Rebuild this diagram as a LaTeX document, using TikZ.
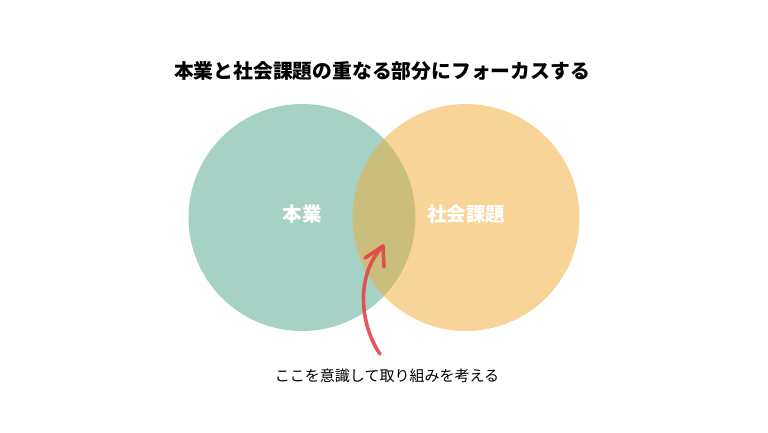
\documentclass[tikz,border=0pt]{standalone}
\usepackage{fontspec}
\newfontfamily\jp{Noto Sans CJK JP}
\usetikzlibrary{calc}
\definecolor{cgreen}{RGB}{77,166,140}
\definecolor{corange}{RGB}{242,171,52}
\definecolor{cred}{RGB}{226,70,72}
\begin{document}
\begin{tikzpicture}[x=1pt,y=-1pt,
  venn/.style={circle,minimum size=227pt,inner sep=0pt,fill opacity=0.5},
  lab/.style={text=white,font=\jp\bfseries\fontsize{19.5}{22}\selectfont},
  pen/.style={draw=cred,line width=3.6pt,line cap=round,line join=round,opacity=0.9}]
\useasboundingbox[fill=white] (0,0) rectangle (768,432);
\node (title) at (382,71) {\jp\bfseries\fontsize{19.8}{23}\selectfont 本業と社会課題の重なる部分にフォーカスする};
\node[venn,fill=cgreen] (c1) at (302,217.5) {};
\node[venn,fill=corange] (c2) at (466,217.5) {};
\node[lab] (l1) at (302,214) {本業};
\node[lab] (l2) at (466,214) {社会課題};
\node (cap) at (387,376) {\jp\fontsize{15}{18}\selectfont ここを意識して取り組みを考える};
\coordinate (a0) at (380,354);
\coordinate (tip) at (383,246);
\coordinate (bl) at (365,258);
\coordinate (br) at (384,267);
\draw[pen] (a0) .. controls (360,325) and (355,275) .. (tip);
\draw[pen] (bl) -- (tip) -- (br);
\end{tikzpicture}
\end{document}
